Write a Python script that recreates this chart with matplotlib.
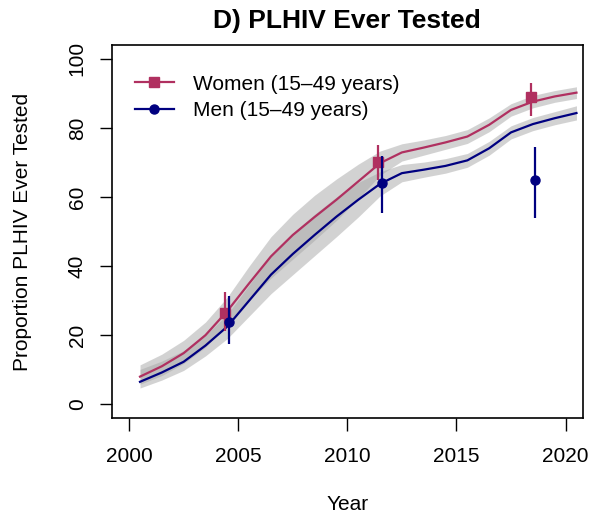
import numpy as np
import matplotlib
matplotlib.use("Agg")
from matplotlib import pyplot as plt
from matplotlib.lines import Line2D

plt.rcParams["font.family"] = ["Liberation Sans", "DejaVu Sans"]

# modelled estimates, mid-year
years = np.arange(2000.5, 2021.0, 1.0)
women = [8.0, 11.0, 14.8, 20.0, 27.0, 35.0, 42.8, 49.0, 54.2, 59.2, 64.5, 69.8, 72.9,
         74.3, 75.8, 77.5, 80.9, 85.2, 87.6, 89.1, 90.2]
women_lo = [5.8, 8.3, 11.8, 16.5, 23.0, 30.0, 36.5, 42.0, 47.5, 53.2, 59.5, 66.3, 70.4,
            72.1, 73.8, 75.5, 78.9, 83.4, 85.8, 87.4, 88.5]
women_hi = [11.4, 14.5, 18.5, 23.8, 31.0, 40.0, 48.5, 55.0, 60.5, 65.2, 69.5, 73.3, 75.4,
            76.5, 77.8, 79.5, 82.9, 87.0, 89.4, 90.8, 91.9]
men = [6.5, 9.2, 12.3, 17.0, 22.5, 30.0, 37.5, 43.5, 49.0, 54.3, 59.2, 63.8, 66.9,
       67.9, 69.0, 70.6, 74.1, 78.7, 81.1, 82.8, 84.3]
men_lo = [4.7, 7.0, 9.8, 14.0, 19.0, 25.5, 32.0, 37.5, 43.0, 48.5, 54.2, 60.3, 64.4,
          65.7, 66.9, 68.6, 72.1, 76.8, 79.2, 80.9, 82.3]
men_hi = [10.1, 12.5, 15.5, 20.0, 26.0, 34.5, 43.0, 49.5, 55.0, 60.0, 64.2, 67.3, 69.4,
          70.1, 71.1, 72.6, 76.1, 80.6, 83.0, 84.7, 86.4]

# survey estimates
survey_years = np.array([2004.5, 2011.5, 2018.5])
women_svy = [26.5, 70.2, 88.9]
women_svy_lo = [21.2, 65.0, 83.5]
women_svy_hi = [32.4, 75.1, 93.0]
men_svy = [23.8, 64.0, 64.9]
men_svy_lo = [17.5, 55.3, 54.0]
men_svy_hi = [31.4, 71.9, 74.4]

labels = ["Women (15\u201349 years)", "Men (15\u201349 years)"]
col_w = "#B03060"
col_m = "#000080"

fig = plt.figure(figsize=(5.97, 5.20), dpi=100)
ax = fig.add_axes([0.187, 0.196, 0.7896, 0.7175])

band = dict(color="#A7A7A7", alpha=0.5, linewidth=0)
ax.fill_between(years, women_lo, women_hi, **band)
ax.fill_between(years, men_lo, men_hi, **band)
ax.plot(years, women, color=col_w, lw=1.6)
ax.plot(years, men, color=col_m, lw=1.6)

w_err = [np.array(women_svy) - np.array(women_svy_lo), np.array(women_svy_hi) - np.array(women_svy)]
m_err = [np.array(men_svy) - np.array(men_svy_lo), np.array(men_svy_hi) - np.array(men_svy)]
ax.errorbar(survey_years - 0.1, women_svy, yerr=w_err, fmt="s", color=col_w,
            ms=6.5, elinewidth=1.6, capsize=0, zorder=4)
ax.errorbar(survey_years + 0.1, men_svy, yerr=m_err, fmt="o", color=col_m,
            ms=6.5, elinewidth=1.6, capsize=0, zorder=5)

ax.set_xlim(1999.2, 2020.8)
ax.set_ylim(-4, 104)
ax.set_xticks([2000, 2005, 2010, 2015, 2020])
ax.set_yticks([0, 20, 40, 60, 80, 100])
ax.tick_params(labelsize=15, length=9, width=1, direction="out")
ax.tick_params(axis="x", pad=12)
ax.tick_params(axis="y", pad=9)
for lab in ax.get_yticklabels():
    lab.set_rotation(90)
    lab.set_va("center")
for s in ax.spines.values():
    s.set_linewidth(1.2)

ax.set_xlabel("Year", fontsize=15, labelpad=21)
ax.set_ylabel("Proportion PLHIV Ever Tested", fontsize=15, labelpad=26)
ax.set_title("D) PLHIV Ever Tested", fontsize=19, fontweight="bold", pad=12)

handles = [
    Line2D([], [], color=col_w, lw=1.6, marker="s", ms=6.5),
    Line2D([], [], color=col_m, lw=1.6, marker="o", ms=6.5),
]
ax.legend(handles, labels, loc="upper left", frameon=False, fontsize=15,
          handlelength=1.9, handletextpad=0.9, labelspacing=0.35,
          borderaxespad=0.0, bbox_to_anchor=(0.031, 0.943))

fig.savefig("out.png", dpi=100)
